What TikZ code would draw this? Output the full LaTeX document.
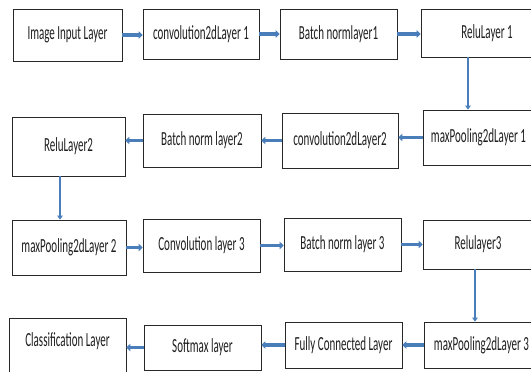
\documentclass[tikz,border=0pt]{standalone}
\usepackage{fontspec}
\setmainfont{Carlito}
\usetikzlibrary{arrows.meta}
\definecolor{arrowblue}{RGB}{74,126,187}
\definecolor{boxline}{RGB}{40,40,40}
\newcommand\lblx[1]{\scalebox{0.55}[1]{#1}}
\tikzset{
  box/.style={draw=boxline, line width=0.8pt, fill=white, inner sep=0pt,
    font=\fontsize{20}{20}\selectfont, text=black!88},
  txt/.style={inner sep=0pt, font=\fontsize{20}{20}\selectfont, text=black!88},
  harrow/.style={draw=arrowblue, line width=3.6pt, -{Triangle[width=7.5pt,length=4pt]}},
  varrow/.style={draw=arrowblue, line width=2pt, -{Triangle[width=5.5pt,length=4pt]}}
}
\begin{document}
\begin{tikzpicture}[x=1pt,y=-1pt]
\useasboundingbox (0,0) rectangle (531,372);
\clip (0,0) rectangle (531,372);
\fill[white] (0,0) rectangle (531,372);
% row 1
\node[box, minimum width=109, minimum height=52] (A) at (67.5,35) {\lblx{Image Input Layer}};
\node[box, minimum width=116, minimum height=50] (B) at (201,34) {\lblx{convolution2dLayer 1}};
\node[box, minimum width=117, minimum height=50] (C) at (338.5,34) {\lblx{Batch normlayer1}};
\node[box, minimum width=132, minimum height=48] (D) at (487,33) {\lblx{ReluLayer 1}};
% row 2
\node[box, minimum width=111, minimum height=55] (E) at (478.5,137.5) {\lblx{maxPooling2dLayer 1}};
\node[box, minimum width=116, minimum height=55] (F) at (340,140.5) {\lblx{convolution2dLayer2}};
\node[box, minimum width=118, minimum height=53] (G) at (202,140.5) {\lblx{Batch norm layer2}};
\node[box, minimum width=113, minimum height=59] (H) at (68.5,146.5) {\lblx{ReluLayer2}};
% row 3
\node[box, minimum width=114, minimum height=55] (I) at (69,247.5) {\lblx{maxPooling2dLayer 2}};
\node[box, minimum width=117, minimum height=53] (J) at (201.5,245.5) {\lblx{Convolution layer 3}};
\node[box, minimum width=117, minimum height=53] (K) at (342.5,244.5) {\lblx{Batch norm layer 3}};
\node[box, minimum width=110, minimum height=49] (L) at (478,244.5) {\lblx{Relulayer3}};
% row 4
\node[box, minimum width=115, minimum height=46] (M) at (481.5,345) {\lblx{maxPooling2dLayer 3}};
\node[box, minimum width=117, minimum height=46] (N) at (343.5,345) {\lblx{Fully Connected Layer}};
\node[box, minimum width=117, minimum height=45] (O) at (202.5,347.5) {\lblx{Softmax layer}};
\node[box, minimum width=117, minimum height=60] (P) at (67.5,348) {};
\node[txt] (Pt) at (67.5,341) {\lblx{Classification Layer}};
% horizontal arrows
\draw[harrow] (A.east) -- (A.east -| B.west);
\draw[harrow] (B.east) -- (B.east -| C.west);
\draw[harrow] (C.east) -- (C.east -| D.west);
\draw[harrow] (E.west) -- (E.west -| F.east);
\draw[harrow] (F.west) -- (F.west -| G.east);
\draw[harrow] (G.west) -- (G.west -| H.east);
\draw[harrow] (I.east) -- (I.east -| J.west);
\draw[harrow] (J.east) -- (J.east -| K.west);
\draw[harrow] (K.east) -- (K.east -| L.west);
\draw[harrow] (M.west) -- (M.west -| N.east);
\draw[harrow] (N.west) -- (N.west -| O.east);
\draw[harrow] (O.west) -- (O.west -| P.east);
% vertical arrows
\draw[varrow] ([xshift=-19pt]D.south) -- ([xshift=-19pt]D.south |- E.north);
\draw[varrow] ([xshift=-8.5pt]H.south) -- ([xshift=-8.5pt]H.south |- I.north);
\draw[varrow] ([xshift=-3pt]L.south) -- ([xshift=-3pt]L.south |- M.north);
\end{tikzpicture}
\end{document}
